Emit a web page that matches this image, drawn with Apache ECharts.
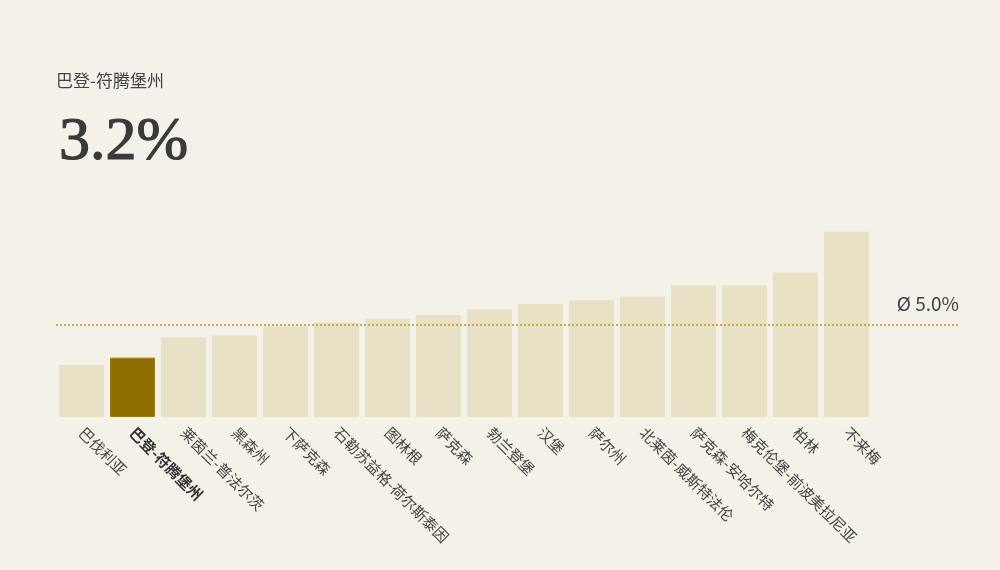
<!DOCTYPE html>
<html>
<head>
<meta charset="utf-8">
<script src="https://cdn.jsdelivr.net/npm/echarts@6/dist/echarts.min.js"></script>
<style>
html,body{margin:0;padding:0;background:#f4f1e8;}
#c{width:1000px;height:570px;}
</style>
</head>
<body>
<div id="c"></div>
<script>
const categories = ['巴伐利亚','巴登-符腾堡州','莱茵兰-普法尔茨','黑森州','下萨克森','石勒苏益格-荷尔斯泰因','图林根','萨克森','勃兰登堡','汉堡','萨尔州','北莱茵-威斯特法伦','萨克森-安哈尔特','梅克伦堡-前波美拉尼亚','柏林','不来梅'];
const values = [2.8, 3.2, 4.3, 4.4, 4.9, 5.1, 5.3, 5.5, 5.8, 6.1, 6.3, 6.5, 7.1, 7.1, 7.8, 10.0];
const highlight = '巴登-符腾堡州';
const average = 5.0;

const hlIndex = categories.indexOf(highlight);
const chart = echarts.init(document.getElementById('c'));
const sans = '"Noto Sans CJK SC","Noto Sans",sans-serif';
const gridTop = 194.6, gridH = 222.4;
chart.setOption({
  backgroundColor: '#f4f1e8',
  animation: false,
  title: [
    {text: highlight, left: 56, top: 72, padding: 0, textStyle: {fontFamily: sans, fontSize: 17, fontWeight: 'normal', color: '#444'}},
    {text: values[hlIndex].toFixed(1) + '%', left: 59, top: 112, padding: 0, textStyle: {fontFamily: '"Liberation Serif",serif', fontSize: 62, fontWeight: 'normal', color: '#3a3a3a', lineHeight: 62, textBorderColor: '#3a3a3a', textBorderWidth: 1.2}}
  ],
  grid: [
    {left: 56, width: 816, top: gridTop, height: gridH},
    {left: 56, width: 903, top: gridTop, height: gridH}
  ],
  xAxis: [
    {type: 'category', gridIndex: 0, data: categories, axisLine: {show: false}, axisTick: {show: false},
     axisLabel: {interval: 0, rotate: -45, margin: 13, fontFamily: sans, fontSize: 15, color: '#444',
       formatter: v => v === highlight ? '{b|' + v + '}' : v,
       rich: {b: {fontWeight: 'bold', fontFamily: sans, fontSize: 15, color: '#333'}}}},
    {type: 'value', gridIndex: 1, min: 0, max: 1, show: false}
  ],
  yAxis: [
    {type: 'value', gridIndex: 0, min: 0, max: 12, show: false, splitLine: {show: false}},
    {type: 'value', gridIndex: 1, min: 0, max: 12, show: false, splitLine: {show: false}}
  ],
  series: [
    {type: 'bar', xAxisIndex: 0, yAxisIndex: 0, barCategoryGap: '12%',
     data: values.map((v, i) => ({value: v, itemStyle: i === hlIndex ? {color: '#8c6d00', borderColor: '#9c7c10', borderWidth: 1} : {color: '#e8e1c5'}}))},
    {type: 'line', xAxisIndex: 1, yAxisIndex: 1, data: [], silent: true,
     markLine: {symbol: 'none', silent: true,
       lineStyle: {color: '#b8961a', type: [2, 2], width: 1.5},
       label: {position: 'insideEndTop', formatter: 'Ø ' + average.toFixed(1) + '%', fontFamily: sans, fontSize: 19, color: '#444', distance: [0, 11]},
       data: [{yAxis: average}]}}
  ]
});
</script>
</body>
</html>
